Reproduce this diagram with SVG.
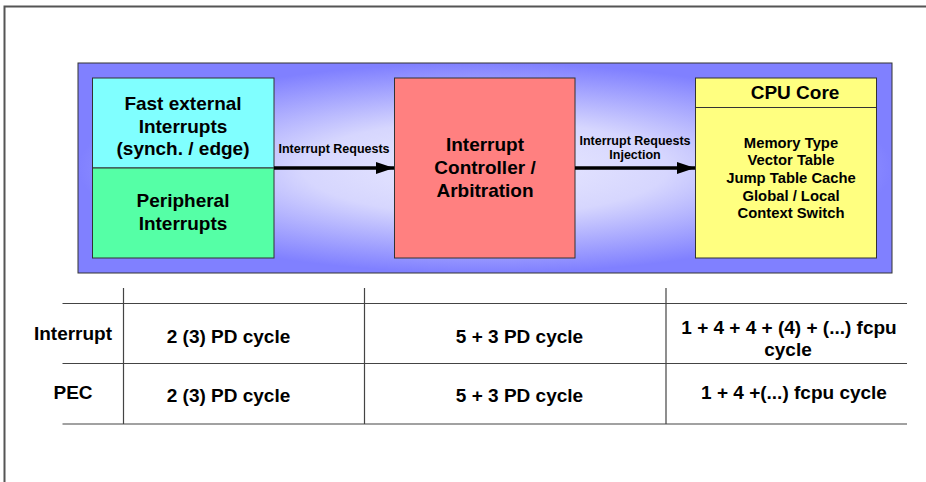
<svg xmlns="http://www.w3.org/2000/svg" width="926" height="482" viewBox="0 0 926 482">
<style>
text{font-family:"Liberation Sans",Arial,sans-serif;font-weight:bold;fill:#000;text-anchor:middle}
.big{font-size:19px}
.mid{font-size:14.8px}
.sm{font-size:12.5px}
.tb{font-size:19px}
.box{stroke:#333;stroke-width:1}
.tl{stroke:#444;stroke-width:1.2;fill:none}
.conn{stroke:#000;stroke-width:3.5;fill:none}
</style>
<defs>
<radialGradient id="pg" cx="0.5" cy="0.5" r="0.5">
<stop offset="0" stop-color="#eaeaff"/>
<stop offset="0.45" stop-color="#d6d6fe"/>
<stop offset="1" stop-color="#8080ff"/>
</radialGradient>
<marker id="ah" viewBox="0 0 18 12" refX="18" refY="6" markerWidth="18" markerHeight="12" markerUnits="userSpaceOnUse" orient="auto">
<path d="M0,0 L18,6 L0,12 Z" fill="#000"/>
</marker>
</defs>
<g id="frame">
<path d="M4.5,482 L4.5,6.5 L926,6.5" fill="none" stroke="#555" stroke-width="2"/>
</g>
<g id="panel">
<rect x="78" y="63" width="814" height="210" fill="url(#pg)" stroke="#333" stroke-width="1"/>
</g>
<g id="fast-external">
<rect class="box" x="92.5" y="78" width="181.5" height="90" fill="#80ffff"/>
<text class="big" x="183" y="109.5">Fast external</text>
<text class="big" x="183" y="132.5">Interrupts</text>
<text class="big" x="183" y="155">(synch. / edge)</text>
</g>
<g id="peripheral">
<rect class="box" x="92.5" y="168" width="181.5" height="90" fill="#55ffa6"/>
<text class="big" x="183" y="207">Peripheral</text>
<text class="big" x="183" y="230">Interrupts</text>
</g>
<g id="controller">
<rect class="box" x="394.5" y="78" width="180.5" height="180" fill="#ff8080"/>
<text class="big" x="485" y="150.5">Interrupt</text>
<text class="big" x="485" y="173.5">Controller /</text>
<text class="big" x="485" y="196.5">Arbitration</text>
</g>
<g id="cpu">
<rect class="box" x="695.5" y="78" width="181" height="180" fill="#ffff80"/>
<line class="box" x1="695.5" y1="107.5" x2="876.5" y2="107.5"/>
<text class="big" x="795" y="98.5">CPU Core</text>
<text class="mid" x="791" y="147.5">Memory Type</text>
<text class="mid" x="791" y="165">Vector Table</text>
<text class="mid" x="791" y="182.5">Jump Table Cache</text>
<text class="mid" x="791" y="200.5">Global / Local</text>
<text class="mid" x="791" y="218">Context Switch</text>
</g>
<g id="connectors">
<line class="conn" x1="274" y1="168" x2="394" y2="168" marker-end="url(#ah)"/>
<text class="sm" x="334" y="152.5">Interrupt Requests</text>
<line class="conn" x1="575" y1="168" x2="695" y2="168" marker-end="url(#ah)"/>
<text class="sm" x="635" y="144.5">Interrupt Requests</text>
<text class="sm" x="635" y="159">Injection</text>
</g>
<g id="table">
<line class="tl" x1="62.5" y1="303.5" x2="907" y2="303.5"/>
<line class="tl" x1="62.5" y1="363.5" x2="907" y2="363.5"/>
<line class="tl" x1="62.5" y1="424" x2="907" y2="424"/>
<line class="tl" x1="123.5" y1="288" x2="123.5" y2="424"/>
<line class="tl" x1="364.5" y1="288" x2="364.5" y2="424"/>
<line class="tl" x1="666" y1="288" x2="666" y2="424"/>
<text class="tb" x="73" y="339.5">Interrupt</text>
<text class="tb" x="228.5" y="343">2 (3) PD cycle</text>
<text class="tb" x="519.5" y="343">5 + 3 PD cycle</text>
<text class="tb" x="789" y="333.5">1 + 4 + 4 + (4) + (...) fcpu</text>
<text class="tb" x="788" y="355.5">cycle</text>
<text class="tb" x="73" y="399">PEC</text>
<text class="tb" x="228.5" y="402">2 (3) PD cycle</text>
<text class="tb" x="519.5" y="402">5 + 3 PD cycle</text>
<text class="tb" x="794" y="399">1 + 4 +(...) fcpu cycle</text>
</g>
</svg>
